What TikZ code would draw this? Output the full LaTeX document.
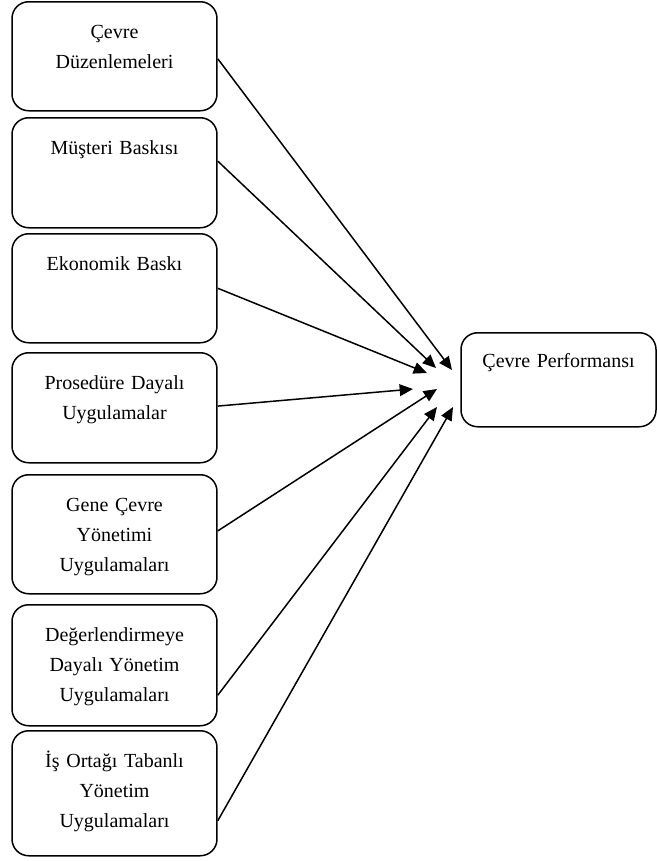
\documentclass[tikz,border=0pt]{standalone}
\usepackage{fontspec}
\setmainfont{Liberation Serif}
\usetikzlibrary{arrows.meta}

\tikzset{
	kutu/.style={draw=black,line width=0.9pt,rounded corners=10pt,anchor=north,
		text width=119pt,align=center,inner xsep=2pt,inner ysep=0pt,
		font=\fontsize{12}{18}\selectfont,text height=22pt},
	ok/.style={draw=black,line width=0.9pt,-{Triangle[length=8pt,width=7pt]}}
}

\begin{document}
\begin{tikzpicture}[x=0.6pt,y=-0.6pt]
	\useasboundingbox (0,0) rectangle (657,861);
	\node[kutu,text depth=43.4pt] (b1) at (114.5,1) {Çevre\\Düzenlemeleri};
	\node[kutu,text depth=44pt] (b2) at (114.5,117) {Müşteri Baskısı};
	\node[kutu,text depth=43.4pt] (b3) at (114.5,233) {Ekonomik Baskı};
	\node[kutu,text depth=44pt] (b4) at (114.5,352) {Prosedüre Dayalı\\Uygulamalar};
	\node[kutu,text depth=49.4pt] (b5) at (114.5,474) {Gene Çevre\\Yönetimi\\Uygulamaları};
	\node[kutu,text depth=50.6pt] (b6) at (114.5,604) {Değerlendirmeye\\Dayalı Yönetim\\Uygulamaları};
	\node[kutu,text depth=53pt] (b7) at (114.5,730) {İş Ortağı Tabanlı\\Yönetim\\Uygulamaları};
	\node[kutu,text width=113pt,text height=21pt,text depth=35.4pt] (perf) at (558.5,332) {Çevre Performansı};
	
	\coordinate (u1) at (452,370);
	\coordinate (u2) at (436,368);
	\coordinate (u3) at (427,373);
	\coordinate (u4) at (413,389);
	\coordinate (u5) at (437,389);
	\coordinate (u6) at (437,407);
	\coordinate (u7) at (453,407);
	
	\foreach \k/\dy in {1/-1.5,2/7,3/0,4/1,5/2,6/-18,7/-16.5}
		\draw[ok] ([yshift=\dy pt]b\k.east) -- (u\k);
\end{tikzpicture}
\end{document}
